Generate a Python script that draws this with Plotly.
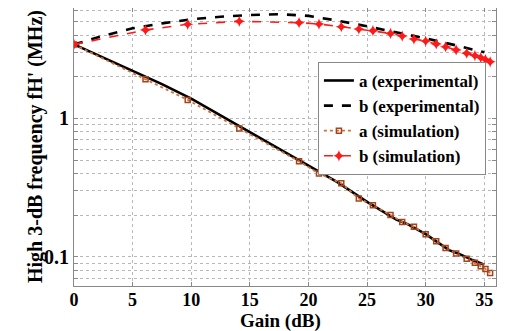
import plotly.graph_objects as go

# Experimental curves
x_exp = [0, 2.5, 5, 7.5, 10, 12.5, 15, 17.5, 20, 22.5, 25, 26.5, 27.5, 28.5, 30, 31, 32, 33, 34, 35]
a_exp = [3.42, 2.75, 2.22, 1.77, 1.39, 1.05, 0.80, 0.60, 0.455, 0.345, 0.25, 0.21, 0.186, 0.172, 0.146, 0.128, 0.112, 0.104, 0.095, 0.088]
xb_exp = [0, 2.5, 5, 7.5, 10, 12.5, 15, 17.5, 20, 22.5, 25, 27.5, 30, 32.5, 35]
b_exp = [3.42, 3.95, 4.47, 4.85, 5.19, 5.42, 5.58, 5.65, 5.5, 5.08, 4.62, 4.2, 3.78, 3.38, 3.0]

# Simulation curves
x_sim = [0, 6.1, 9.7, 14.1, 19.2, 20.9, 22.8, 24.3, 25.5, 27.0, 28.0, 29.0, 30.0, 30.9, 31.7, 32.6, 33.5, 34.2, 34.7, 35.1, 35.5]
a_sim = [3.42, 1.92, 1.36, 0.847, 0.49, 0.40, 0.34, 0.264, 0.236, 0.201, 0.179, 0.165, 0.146, 0.13, 0.116, 0.106, 0.097, 0.091, 0.0857, 0.0819, 0.0766]
b_sim = [3.42, 4.35, 4.78, 5.02, 4.91, 4.80, 4.59, 4.42, 4.30, 4.11, 3.93, 3.74, 3.62, 3.45, 3.29, 3.12, 2.96, 2.84, 2.75, 2.66, 2.56]

y_tickvals = [0.07, 0.08, 0.09, 0.1, 0.2, 0.3, 0.4, 0.5, 0.6, 0.7, 0.8, 0.9, 1, 2, 3, 4, 5, 6]
y_ticktext = ["", "", "", "0.1", "", "", "", "", "", "", "", "", "1", "", "", "", "", "6"]
x_tickvals = [0, 5, 10, 15, 20, 25, 30, 35]

FONT = "Liberation Serif"

fig = go.Figure()
fig.add_trace(go.Scatter(x=x_exp, y=a_exp, mode="lines", name="a (experimental)",
                         line=dict(color="black", width=2.6)))
fig.add_trace(go.Scatter(x=xb_exp, y=b_exp, mode="lines", name="b (experimental)",
                         line=dict(color="black", width=2.6, dash="dash")))
fig.add_trace(go.Scatter(x=x_sim, y=a_sim, mode="lines+markers", name="a (simulation)",
                         line=dict(color="#d0703a", width=1.8, dash="dot"),
                         marker=dict(symbol="square-open", size=5, color="#a5441a",
                                     line=dict(width=1.5, color="#a5441a"))))
fig.add_trace(go.Scatter(x=x_sim, y=b_sim, mode="lines+markers", name="b (simulation)",
                         line=dict(color="#ff1a1a", width=1.6, dash="dash"),
                         marker=dict(symbol="star-diamond", size=8, color="#ff1a1a")))

fig.update_layout(
    width=506, height=331,
    margin=dict(l=66, r=18, t=0, b=53),
    paper_bgcolor="white", plot_bgcolor="white",
    font=dict(family=FONT, size=20, color="black"),
    showlegend=True,
    legend=dict(x=0.578, y=0.806, xanchor="left", yanchor="top",
                bgcolor="white", bordercolor="#888888", borderwidth=1,
                font=dict(family=FONT, size=17, color="black", weight="bold"),
                tracegroupgap=0, itemwidth=30),
    annotations=[
        dict(text="<b>High 3-dB frequency fH' (MHz)</b>", textangle=-90,
             xref="paper", yref="paper", x=0, y=0.5, xshift=-39,
             xanchor="center", yanchor="middle", showarrow=False,
             font=dict(family=FONT, size=20, color="black")),
        dict(text="<b>Gain (dB)</b>",
             xref="paper", yref="paper", x=0.49, y=0, yshift=-35,
             xanchor="center", yanchor="middle", showarrow=False,
             font=dict(family=FONT, size=19, color="black")),
    ],
)
fig.update_xaxes(
    range=[0, 36], tickvals=x_tickvals, ticks="inside", ticklen=4, tickcolor="#888888",
    tickfont=dict(family=FONT, size=18, color="black", weight="bold"), ticklabelstandoff=-3,
    showline=True, linecolor="#888888", linewidth=1, mirror="ticks",
    showgrid=True, gridcolor="#b8b8b8", griddash="dot", gridwidth=1,
    zeroline=False,
)
fig.update_yaxes(
    type="log", range=[-1.2095, 0.797],
    tickvals=y_tickvals, ticktext=y_ticktext, ticks="inside", ticklen=4, tickcolor="#888888",
    tickfont=dict(family=FONT, size=20, color="black", weight="bold"),
    showline=True, linecolor="#888888", linewidth=1, mirror="ticks",
    showgrid=True, gridcolor="#b8b8b8", griddash="dot", gridwidth=1,
    zeroline=False,
)

fig.write_html("out.html")
